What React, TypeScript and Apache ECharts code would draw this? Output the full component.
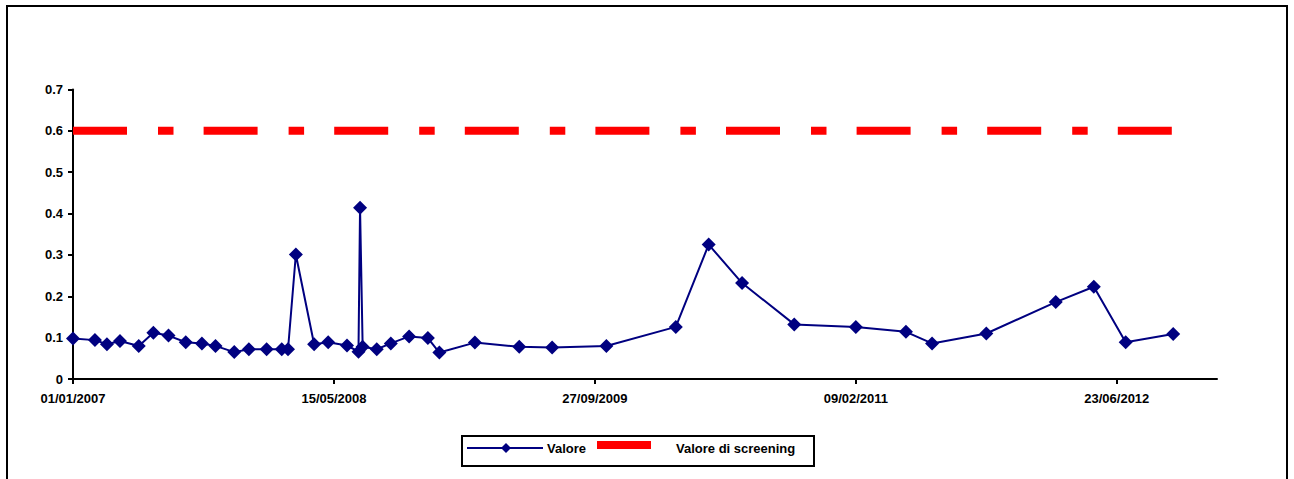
import React, { useEffect, useRef } from "react";
import * as echarts from "echarts";

// Sampling dates and measured values
const sampleDates = [
  "2007-01-01", "2007-02-12", "2007-03-07", "2007-04-01", "2007-05-07",
  "2007-06-04", "2007-07-03", "2007-08-05", "2007-09-05", "2007-10-01",
  "2007-11-06", "2007-12-04", "2008-01-07", "2008-02-05", "2008-02-17",
  "2008-03-03", "2008-04-07", "2008-05-04", "2008-06-09", "2008-07-01",
  "2008-07-04", "2008-07-09", "2008-08-05", "2008-09-01", "2008-10-06",
  "2008-11-11", "2008-12-03", "2009-02-09", "2009-05-05", "2009-07-07",
  "2009-10-19", "2010-03-01", "2010-05-03", "2010-07-06", "2010-10-14",
  "2011-02-09", "2011-05-16", "2011-07-05", "2011-10-17", "2012-02-27",
  "2012-05-10", "2012-07-10", "2012-10-09",
];

const sampleValues = [
  0.098, 0.094, 0.084, 0.092, 0.080,
  0.112, 0.105, 0.089, 0.086, 0.080,
  0.065, 0.072, 0.072, 0.072, 0.072,
  0.301, 0.084, 0.089, 0.081, 0.066,
  0.414, 0.078, 0.072, 0.086, 0.103,
  0.099, 0.064, 0.088, 0.078, 0.076,
  0.080, 0.126, 0.325, 0.232, 0.132,
  0.126, 0.114, 0.086, 0.110, 0.186,
  0.223, 0.089, 0.109,
];

// Screening threshold
const screeningValue = 0.6;

// Axis settings
const axisStartDate = "2007-01-01";
const axisEndDate = "2013-01-01";
const xTickDates = ["2007-01-01", "2008-05-15", "2009-09-27", "2011-02-09", "2012-06-23"];
const yMin = 0;
const yMax = 0.7;
const yStep = 0.1;

const seriesNames = ["Valore", "Valore di screening"];

const DAY_MS = 86400000;
const ORIGIN = Date.parse(axisStartDate);
const toDay = (s: string) => Math.round((Date.parse(s) - ORIGIN) / DAY_MS);
const pad = (n: number) => (n < 10 ? "0" + n : "" + n);
const dayLabel = (v: number) => {
  const d = new Date(ORIGIN + v * DAY_MS);
  return `${pad(d.getUTCDate())}/${pad(d.getUTCMonth() + 1)}/${d.getUTCFullYear()}`;
};

const FONT = "'Liberation Sans', Arial, Helvetica, sans-serif";
const NAVY = "#000080";
const RED = "#FF0000";

export default function App() {
  const ref = useRef<HTMLDivElement>(null);

  useEffect(() => {
    if (!ref.current) return;
    const chart = echarts.init(ref.current, undefined, { renderer: "svg" });

    const valoreData = sampleDates.map((d, i) => [toDay(d), sampleValues[i]]);
    const screeningData = [
      [toDay(sampleDates[0]), screeningValue],
      [toDay(sampleDates[sampleDates.length - 1]), screeningValue],
    ];
    const tickDays = xTickDates.map(toDay);

    const labelStyle = {
      color: "#000",
      fontFamily: FONT,
      fontWeight: "bold" as const,
      fontSize: 13,
    };

    chart.setOption({
      animation: false,
      backgroundColor: "#fff",
      grid: {
        left: 73,
        right: 77,
        top: 89.5,
        bottom: 100,
        containLabel: false,
        outerBoundsMode: "none",
      },
      xAxis: {
        type: "value",
        min: 0,
        max: toDay(axisEndDate),
        interval: 500,
        splitLine: { show: false },
        axisLine: { lineStyle: { color: "#000", width: 2 } },
        axisTick: {
          inside: false,
          length: 5,
          lineStyle: { color: "#000", width: 2 },
          customValues: tickDays,
        },
        axisLabel: {
          ...labelStyle,
          margin: 13,
          customValues: tickDays,
          formatter: (v: number) => dayLabel(v),
        },
      },
      yAxis: {
        type: "value",
        min: yMin,
        max: yMax,
        interval: yStep,
        splitLine: { show: false },
        axisLine: { show: true, lineStyle: { color: "#000", width: 2 } },
        axisTick: { show: true, length: 5, lineStyle: { color: "#000", width: 2 } },
        axisLabel: {
          ...labelStyle,
          margin: 10,
          formatter: (v: number) => (Math.round(v * 10) / 10).toString(),
        },
      },
      series: [
        {
          name: seriesNames[1],
          type: "line",
          data: screeningData,
          symbol: "none",
          silent: true,
          lineStyle: { color: RED, width: 8, type: [54, 31, 15.5, 30.1], cap: "butt" },
          z: 2,
        },
        {
          name: seriesNames[0],
          type: "line",
          data: valoreData,
          symbol: "diamond",
          symbolSize: 14,
          itemStyle: { color: NAVY },
          lineStyle: { color: NAVY, width: 2 },
          z: 3,
        },
      ],
      graphic: [
        {
          type: "rect",
          shape: { x: 7, y: 6, width: 1280, height: 480 },
          style: { fill: "none", stroke: "#000", lineWidth: 2 },
          silent: true,
          z: 10,
        },
        {
          type: "group",
          z: 10,
          children: [
            {
              type: "rect",
              shape: { x: 462, y: 436, width: 352, height: 30 },
              style: { fill: "#fff", stroke: "#000", lineWidth: 2 },
            },
            {
              type: "line",
              shape: { x1: 467, y1: 448, x2: 543, y2: 448 },
              style: { stroke: NAVY, lineWidth: 2 },
            },
            {
              type: "polygon",
              shape: { points: [[506, 443], [511, 448], [506, 453], [501, 448]] },
              style: { fill: NAVY },
            },
            {
              type: "text",
              x: 547,
              y: 448,
              style: {
                text: seriesNames[0],
                fill: "#000",
                font: `bold 13px ${FONT}`,
                verticalAlign: "middle",
              },
            },
            {
              type: "rect",
              shape: { x: 597, y: 441, width: 54, height: 8 },
              style: { fill: RED },
            },
            {
              type: "text",
              x: 676,
              y: 448,
              style: {
                text: seriesNames[1],
                fill: "#000",
                font: `bold 13px ${FONT}`,
                verticalAlign: "middle",
              },
            },
          ],
        },
      ],
    });

    return () => chart.dispose();
  }, []);

  return (
    <div
      ref={ref}
      style={{ position: "absolute", left: 0, top: 0, width: 1294, height: 479 }}
    />
  );
}
